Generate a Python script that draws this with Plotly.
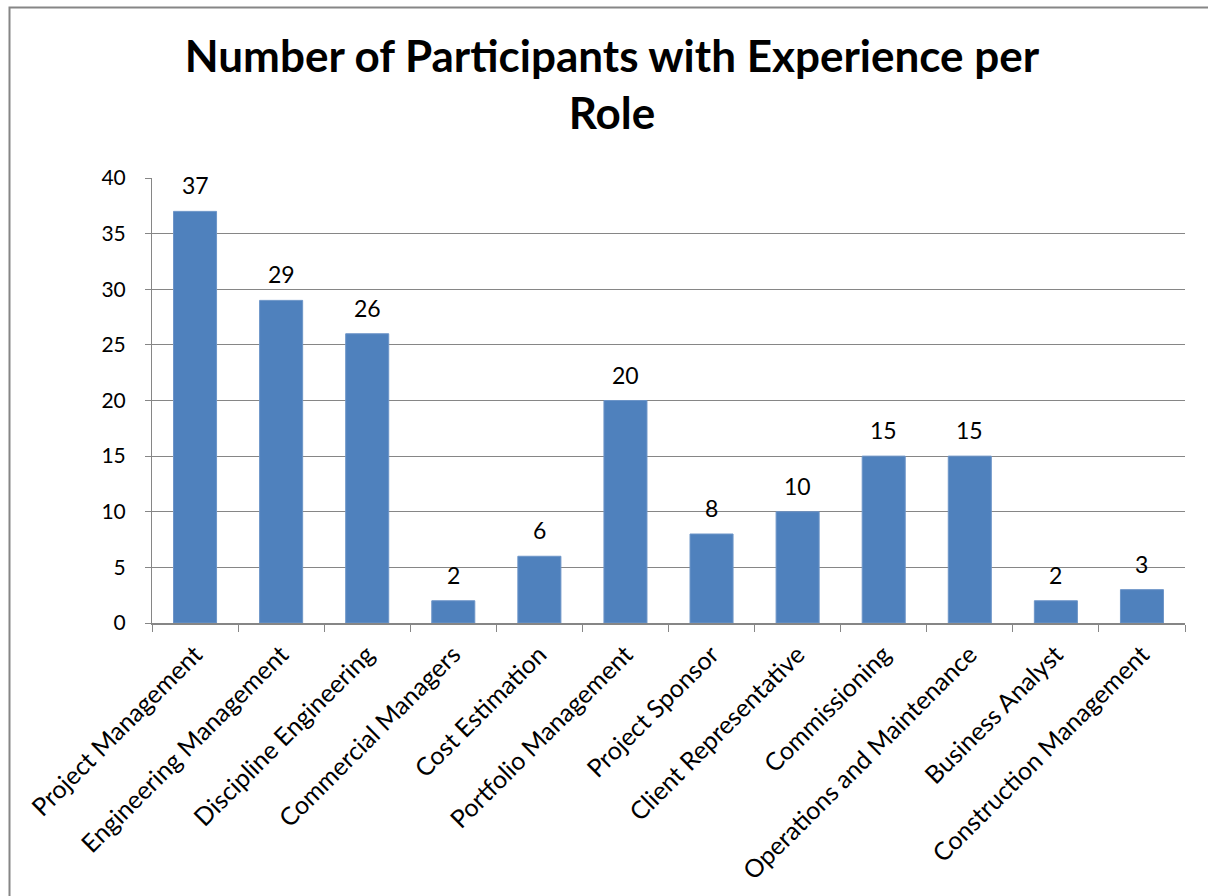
import plotly.graph_objects as go

roles = [
    "Project Management",
    "Engineering Management",
    "Discipline Engineering",
    "Commercial Managers",
    "Cost Estimation",
    "Portfolio Management",
    "Project Sponsor",
    "Client Representative",
    "Commissioning",
    "Operations and Maintenance",
    "Business Analyst",
    "Construction Management",
]
participants = [37, 29, 26, 2, 6, 20, 8, 10, 15, 15, 2, 3]
y_ticks = [0, 5, 10, 15, 20, 25, 30, 35, 40]

FONT = "Lato, 'Open Sans', sans-serif"
W, H = 1208, 896
L, R, T, B = 152, 23, 178, 273
pw, ph = W - L - R, H - T - B

fig = go.Figure(
    go.Bar(
        x=roles,
        y=participants,
        marker=dict(color="#4F81BD", line=dict(color="#6D95C8", width=1)),
        hoverinfo="x+y",
    )
)

# value labels above each bar
for role, v in zip(roles, participants):
    fig.add_annotation(
        x=role, y=v, xref="x", yref="y",
        text=str(v), showarrow=False,
        yanchor="bottom", yshift=10,
        font=dict(family=FONT, size=23, color="#000000"),
    )

# chart frame (outer border)
def px_x(v):
    return (v - L) / pw

def px_y(v):
    return (H - B - v) / ph

fig.add_shape(
    type="rect", xref="paper", yref="paper",
    x0=px_x(9.5), x1=px_x(1215), y0=px_y(7.5), y1=px_y(905),
    line=dict(color="#868686", width=2), fillcolor="rgba(0,0,0,0)",
    layer="below",
)

fig.update_layout(
    width=W, height=H,
    margin=dict(l=L, r=R, t=T, b=B),
    paper_bgcolor="white",
    plot_bgcolor="white",
    bargap=0.5,
    showlegend=False,
    title=dict(
        text="<b>Number of Participants with Experience per<br>Role</b>",
        x=612 / W, xanchor="center",
        y=1 - 72 / H, yanchor="top",
        font=dict(family=FONT, size=44, color="#000000"),
    ),
    font=dict(family=FONT, color="#000000"),
)

fig.update_yaxes(
    range=[0, 40],
    tickvals=y_ticks,
    showgrid=True, gridcolor="#868686", gridwidth=1,
    showline=True, linecolor="#868686", linewidth=1,
    ticks="outside", ticklen=6, tickcolor="#868686",
    ticklabelstandoff=15,
    tickfont=dict(family=FONT, size=21, color="#000000"),
    zeroline=False,
)
fig.update_xaxes(
    showline=True, linecolor="#868686", linewidth=2,
    ticks="outside", ticklen=7, tickcolor="#868686",
    tickson="boundaries",
    tickangle=-45,
    ticklabelstandoff=5,
    tickfont=dict(family=FONT, size=25, color="#000000"),
    showgrid=False,
)

fig.write_html("out.html")
